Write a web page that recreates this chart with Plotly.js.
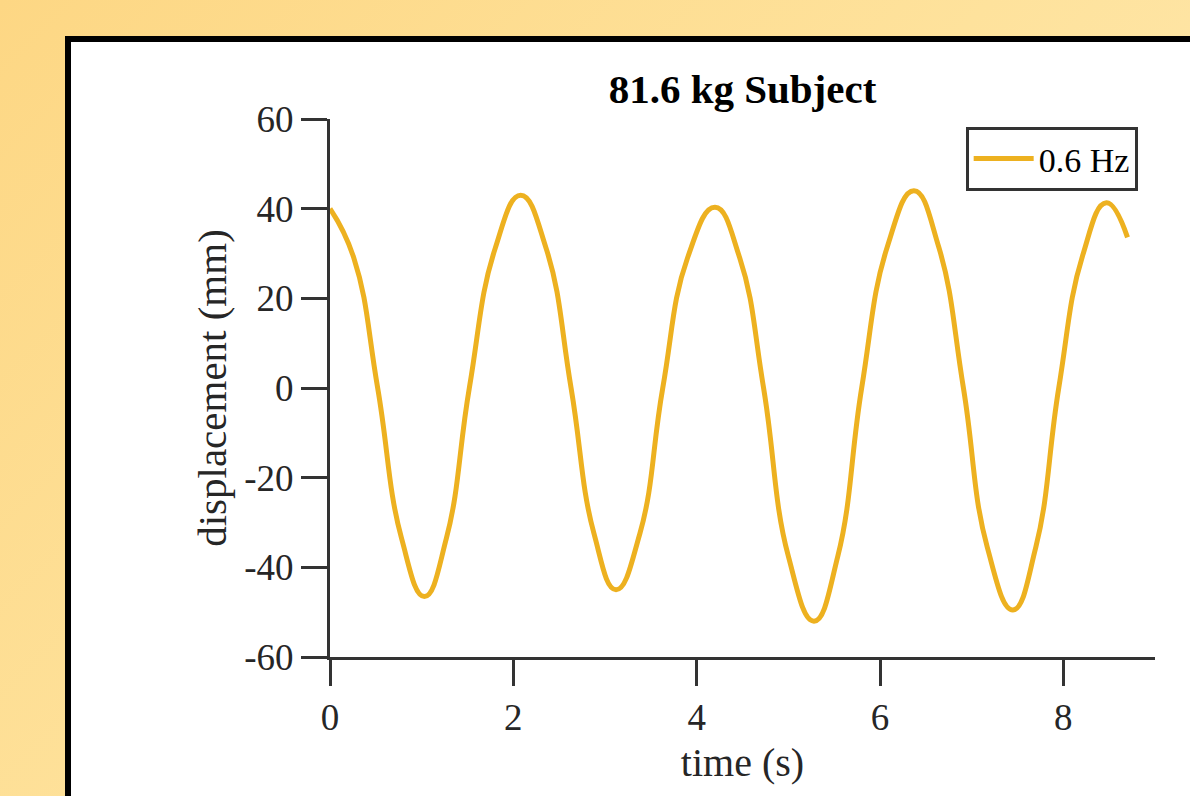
<!DOCTYPE html>
<html>
<head>
<meta charset="utf-8">
<script src="https://cdn.plot.ly/plotly-3.0.1.min.js"></script>
<style>
  html, body { margin:0; padding:0; width:1190px; height:796px; overflow:hidden; }
  body { background: linear-gradient(135deg, #FDD784 0%, #FEE29C 50%, #FFEBB8 100%); position:relative; }
  #panel { position:absolute; left:65px; top:36px; width:1200px; height:800px; background:#fff; border:6px solid #000; box-sizing:border-box; }
  #chart { position:absolute; left:0; top:0; width:1190px; height:796px; }
</style>
</head>
<body>
<div id="panel"></div>
<div id="chart"></div>
<script>
// Data
const seriesName = "0.6 Hz";
const timeS = [0, 0.26, 0.52, 0.78, 1.03, 1.27, 1.52, 1.80, 2.08, 2.36, 2.63, 2.88, 3.12, 3.38, 3.63, 3.90, 4.20, 4.47, 4.73, 5.00, 5.28, 5.54, 5.80, 6.08, 6.37, 6.64, 6.91, 7.17, 7.45, 7.70, 7.95, 8.21, 8.47, 8.70];
const displacementMm = [40, 29, 0, -33.5, -46.5, -33.5, 0, 31, 43, 31, 0, -32.5, -45, -32.5, 0, 29, 40.3, 29, 0, -37.5, -52, -37.5, 0, 31.5, 44, 31.5, 0, -35.5, -49.5, -35.5, 0, 29.5, 41.3, 33.6];
const xTicks = [0, 2, 4, 6, 8];
const yTicks = [-60, -40, -20, 0, 20, 40, 60];
const chartTitle = "81.6 kg Subject";
const xLabel = "time (s)";
const yLabel = "displacement (mm)";

const serif = "Liberation Serif, Times New Roman, serif";
const axisColor = "#333333";

const trace = {
  x: timeS, y: displacementMm, type: "scatter", mode: "lines", name: seriesName,
  line: { color: "#EDB120", width: 5, shape: "spline", smoothing: 1.3 },
  showlegend: true
};

const layout = {
  width: 1190, height: 796,
  paper_bgcolor: "rgba(0,0,0,0)", plot_bgcolor: "rgba(0,0,0,0)",
  margin: { l: 330, r: 35, t: 119, b: 139 },
  showlegend: true,
  title: { text: "<b>" + chartTitle + "</b>", font: { family: serif, size: 41, color: "#000" },
           xref: "paper", x: 0.5, xanchor: "center", yref: "container", y: 1 - 89/796, yanchor: "middle" },
  xaxis: {
    range: [0, 9], tickvals: xTicks, ticktext: xTicks.map(String),
    showline: true, linecolor: axisColor, linewidth: 3, mirror: false,
    ticks: "outside", ticklen: 26, tickwidth: 3, tickcolor: axisColor,
    showgrid: false, zeroline: false,
    tickfont: { family: serif, size: 37, color: "#262626" },
    ticklabelstandoff: 0,
    title: { text: xLabel, font: { family: serif, size: 40, color: "#262626" }, standoff: 11 }
  },
  yaxis: {
    range: [-60, 60], tickvals: yTicks, ticktext: yTicks.map(String),
    showline: true, linecolor: axisColor, linewidth: 3, mirror: false,
    ticks: "outside", ticklen: 26, tickwidth: 3, tickcolor: axisColor,
    showgrid: false, zeroline: false,
    tickfont: { family: serif, size: 37, color: "#262626" },
    title: { text: yLabel, font: { family: serif, size: 41, color: "#262626" }, standoff: 5 }
  },
  legend: {
    x: 0.979, xanchor: "right", y: 0.9257, yanchor: "middle",
    bgcolor: "#ffffff", bordercolor: axisColor, borderwidth: 3,
    font: { family: serif, size: 34, color: "#000" },
    itemwidth: 60, tracegroupgap: 0
  }
};

Plotly.newPlot("chart", [trace], layout, { displayModeBar: false, staticPlot: true });
</script>
</body>
</html>
